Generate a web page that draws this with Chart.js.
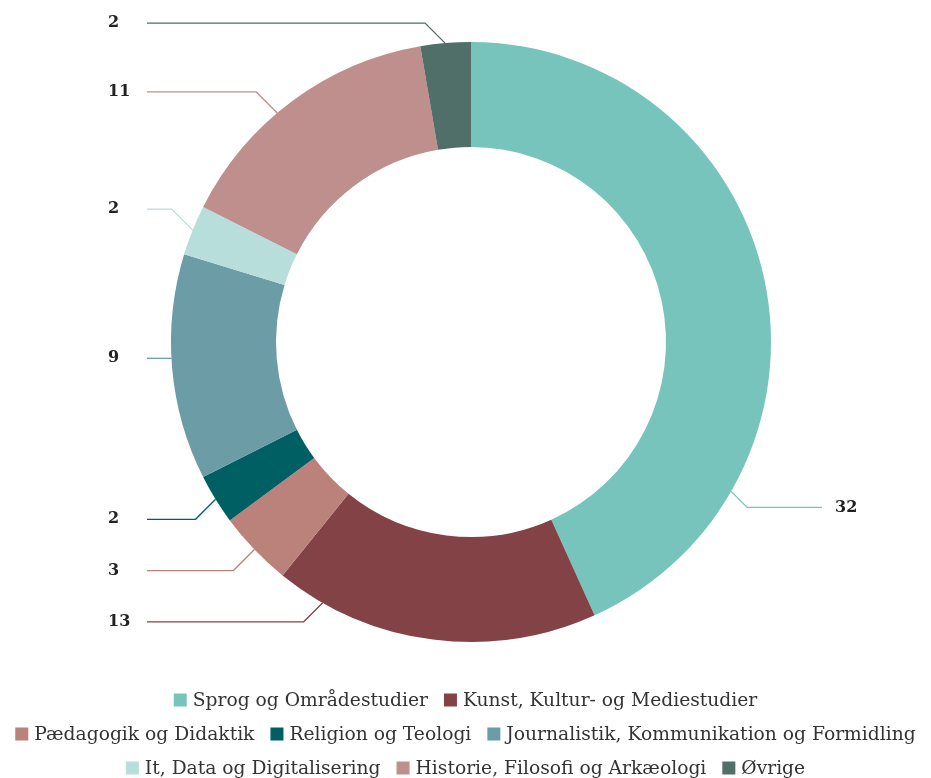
<!DOCTYPE html>
<html>
<head>
<meta charset="utf-8">
<script src="https://cdn.jsdelivr.net/npm/chart.js@4"></script>
<style>
html,body{margin:0;padding:0;background:#fff;}
#wrap{width:931px;height:778px;position:relative;}
</style>
</head>
<body>
<div id="wrap"><canvas id="c"></canvas></div>
<script>
const categories = [
  "Sprog og Områdestudier",
  "Kunst, Kultur- og Mediestudier",
  "Pædagogik og Didaktik",
  "Religion og Teologi",
  "Journalistik, Kommunikation og Formidling",
  "It, Data og Digitalisering",
  "Historie, Filosofi og Arkæologi",
  "Øvrige"
];
const values = [32, 13, 3, 2, 9, 2, 11, 2];
const colors = ["#77c4bc", "#834246", "#bb827b", "#005f63", "#6c9ca6", "#b8dedb", "#be8f8d", "#4f6f68"];

// label layout: where along each slice the connector touches (fraction), which side, vertical bend
const labelLayout = [
  {frac: 0.77, side: "right", bend: 16},
  {frac: 0.853, side: "left", bend: 19},
  {frac: 0.5, side: "left", bend: 21},
  {frac: 0.5, side: "left", bend: 20},
  {frac: 0.54, side: "left", bend: 0},
  {frac: 0.5, side: "left", bend: -21},
  {frac: 0.43, side: "left", bend: -21},
  {frac: 0.49, side: "left", bend: -20}
];
// legend rows (indices into categories)
const legendRows = [[0, 1], [2, 3, 4], [5, 6, 7]];

const leaderPlugin = {
  id: "leaders",
  afterDatasetsDraw(chart) {
    const ctx = chart.ctx;
    const meta = chart.getDatasetMeta(0);
    const W = chart.width;
    ctx.save();
    meta.data.forEach((arc, i) => {
      const p = arc.getProps(["x", "y", "startAngle", "endAngle", "outerRadius"], true);
      const L = labelLayout[i];
      const a = p.startAngle + (p.endAngle - p.startAngle) * L.frac;
      const tx = p.x + Math.cos(a) * p.outerRadius;
      const ty = p.y + Math.sin(a) * p.outerRadius;
      const dir = L.side === "left" ? -1 : 1;
      const bx = tx + dir * Math.abs(L.bend);
      const by = ty + L.bend;
      const ex = L.side === "left" ? 147 : W - 109;
      ctx.strokeStyle = colors[i];
      ctx.lineWidth = 1.3;
      ctx.beginPath();
      ctx.moveTo(tx, ty);
      ctx.lineTo(bx, by);
      ctx.lineTo(ex, by);
      ctx.stroke();
      ctx.fillStyle = "#222";
      ctx.font = "600 16px 'DejaVu Serif'";
      ctx.textBaseline = "middle";
      ctx.textAlign = "left";
      const lx = L.side === "left" ? 108 : W - 96;
      ctx.fillText(String(values[i]), lx, by);
    });
    ctx.restore();
  }
};

const legendPlugin = {
  id: "rowLegend",
  afterDraw(chart) {
    const ctx = chart.ctx;
    const W = chart.width;
    const box = 13, gap = 6, itemGap = 16, rowH = 34;
    const top = chart.chartArea.bottom + 58;
    ctx.save();
    ctx.font = "18.7px 'DejaVu Serif'";
    ctx.textBaseline = "middle";
    ctx.textAlign = "left";
    legendRows.forEach((row, r) => {
      const widths = row.map(i => box + gap + ctx.measureText(categories[i]).width);
      const total = widths.reduce((s, w) => s + w, 0) + itemGap * (row.length - 1);
      let x = (W - total) / 2;
      const y = top + r * rowH;
      row.forEach((i, k) => {
        ctx.fillStyle = colors[i];
        ctx.fillRect(x, y - box / 2, box, box);
        ctx.fillStyle = "#333";
        ctx.fillText(categories[i], x + box + gap, y + 1);
        x += widths[k] + itemGap;
      });
    });
    ctx.restore();
  }
};

new Chart(document.getElementById("c"), {
  type: "doughnut",
  data: {
    labels: categories,
    datasets: [{
      data: values,
      backgroundColor: colors,
      borderWidth: 0,
      hoverOffset: 0
    }]
  },
  options: {
    responsive: true,
    maintainAspectRatio: false,
    animation: false,
    cutout: "65%",
    layout: {padding: {top: 42, left: 11, right: 0, bottom: 136}},
    plugins: {
      tooltip: {enabled: false},
      legend: {display: false}
    }
  },
  plugins: [leaderPlugin, legendPlugin]
});
</script>
</body>
</html>
